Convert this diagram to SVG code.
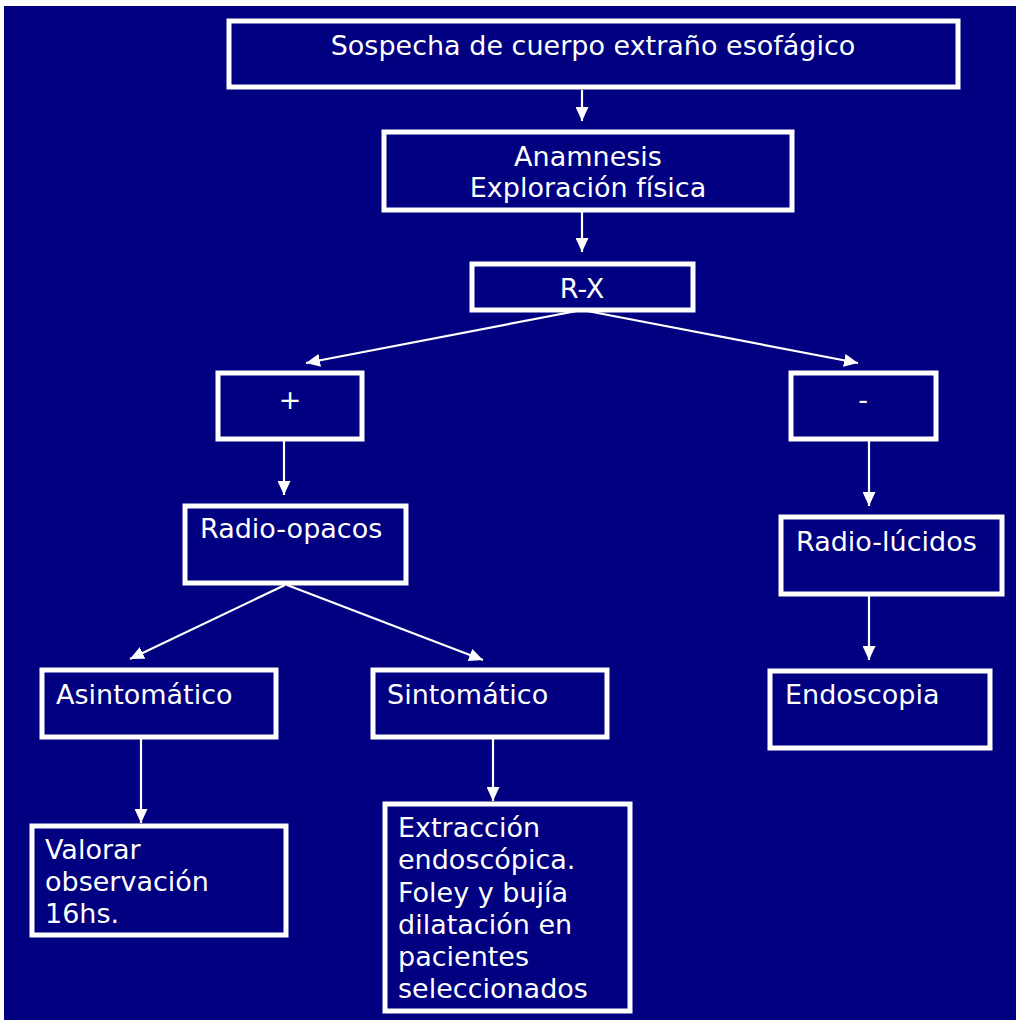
<svg xmlns="http://www.w3.org/2000/svg" width="1016" height="1020" viewBox="0 0 1016 1020">
<defs>
<style>
.box{fill:none;stroke:#fff;stroke-width:5}
.t{font-family:"DejaVu Sans",Verdana,sans-serif;font-size:27px;fill:#fff}
.c{text-anchor:middle}
.con{stroke:#fff;stroke-width:2.2;fill:none;marker-end:url(#ah)}
</style>
<marker id="ah" markerUnits="userSpaceOnUse" markerWidth="14" markerHeight="13" refX="14" refY="6.5" orient="auto" viewBox="0 0 14 13">
<path d="M0,0 L14,6.5 L0,13 z" fill="#fff"/>
</marker>
</defs>
<rect x="0" y="0" width="1016" height="1020" fill="#fff"/>
<rect x="4" y="6" width="1012" height="1014" fill="#000080"/>
<g id="connectors">
<line class="con" x1="582" y1="90" x2="582" y2="121"/>
<line class="con" x1="582" y1="212" x2="582" y2="252"/>
<line class="con" x1="582" y1="310" x2="306" y2="363"/>
<line class="con" x1="582" y1="310" x2="858" y2="363"/>
<line class="con" x1="284" y1="441" x2="284" y2="495"/>
<line class="con" x1="869" y1="441" x2="869" y2="506"/>
<line class="con" x1="285" y1="585" x2="130" y2="659"/>
<line class="con" x1="287" y1="585" x2="483" y2="660"/>
<line class="con" x1="869" y1="596" x2="869" y2="660"/>
<line class="con" x1="141" y1="739" x2="141" y2="823"/>
<line class="con" x1="493" y1="739" x2="493" y2="801"/>
</g>
<g id="n1"><rect class="box" x="229" y="21" width="729" height="66"/><text class="t c" x="593" y="55">Sospecha de cuerpo extraño esofágico</text></g>
<g id="n2"><rect class="box" x="384" y="132" width="408" height="78"/><text class="t c" x="588" y="166">Anamnesis</text><text class="t c" x="588" y="197">Exploración física</text></g>
<g id="n3"><rect class="box" x="472" y="264" width="221" height="46"/><text class="t c" x="582" y="298">R-X</text></g>
<g id="n4"><rect class="box" x="218" y="373" width="144" height="66"/><text class="t c" x="290" y="409">+</text></g>
<g id="n5"><rect class="box" x="791" y="373" width="145" height="66"/><text class="t c" x="863" y="409">-</text></g>
<g id="n6"><rect class="box" x="185" y="506" width="221" height="77"/><text class="t" x="200" y="538">Radio-opacos</text></g>
<g id="n7"><rect class="box" x="781" y="517" width="221" height="77"/><text class="t" x="796" y="551">Radio-lúcidos</text></g>
<g id="n8"><rect class="box" x="42" y="670" width="234" height="67"/><text class="t" x="56" y="704">Asintomático</text></g>
<g id="n9"><rect class="box" x="373" y="670" width="234" height="67"/><text class="t" x="387" y="704">Sintomático</text></g>
<g id="n10"><rect class="box" x="770" y="671" width="220" height="77"/><text class="t" x="785" y="704">Endoscopia</text></g>
<g id="n11"><rect class="box" x="32" y="826" width="254" height="109"/><text class="t" x="45" y="859">Valorar</text><text class="t" x="45" y="891">observación</text><text class="t" x="45" y="923">16hs.</text></g>
<g id="n12"><rect class="box" x="385" y="804" width="245" height="207"/><text class="t" x="398" y="837">Extracción</text><text class="t" x="398" y="869">endoscópica.</text><text class="t" x="398" y="902">Foley y bujía</text><text class="t" x="398" y="934">dilatación en</text><text class="t" x="398" y="966">pacientes</text><text class="t" x="398" y="998">seleccionados</text></g>
</svg>
